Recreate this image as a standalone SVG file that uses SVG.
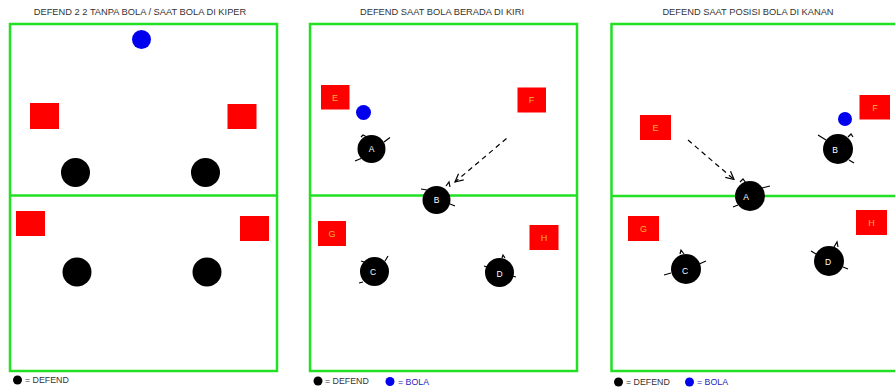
<svg xmlns="http://www.w3.org/2000/svg" width="895" height="389" viewBox="0 0 895 389">
<style>
.field{fill:none;stroke:#22e022;stroke-width:2.5}
.mid{stroke:#22e022;stroke-width:2.5}
.red{fill:#ff0000}
.def{fill:#000}
.ball{fill:#0000ee}
.title{font-family:"Liberation Sans",Arial,sans-serif;font-size:9.3px;fill:#333;text-anchor:middle}
.lbl{font-family:"Liberation Sans",Arial,sans-serif;font-size:9px;fill:#ffb030;text-anchor:middle}
.plbl{font-family:"Liberation Sans",Arial,sans-serif;font-size:8.5px;fill:#fff;text-anchor:middle}
.leg{font-family:"Liberation Sans",Arial,sans-serif;font-size:8.8px;fill:#333}
.legb{font-family:"Liberation Sans",Arial,sans-serif;font-size:8.8px;fill:#2222bb}
.tick{stroke:#000;stroke-width:1.2;fill:none}
.arrow{stroke:#000;stroke-width:1.2;stroke-dasharray:5,4;fill:none}
</style>
<defs>
<marker id="ah" markerWidth="10" markerHeight="10" refX="9" refY="5" orient="auto" markerUnits="userSpaceOnUse">
<path d="M1,1 L9,5 L1,9" fill="none" stroke="#000" stroke-width="1.2"/>
</marker>
</defs>
<rect width="895" height="389" fill="#fff"/>

<!-- Titles -->
<text class="title" x="140" y="15">DEFEND 2 2 TANPA BOLA / SAAT BOLA DI KIPER</text>
<text class="title" x="442" y="15">DEFEND SAAT BOLA BERADA DI KIRI</text>
<text class="title" x="748" y="15">DEFEND SAAT POSISI BOLA DI KANAN</text>

<!-- Panel 1 -->
<g id="field1">
<rect class="field" x="10" y="24" width="267" height="347"/>
<line class="mid" x1="10" y1="195.5" x2="277" y2="195.5"/>
</g>
<g id="p1-ball"><circle class="ball" cx="141.5" cy="39.5" r="9.5"/></g>
<g id="p1-r1"><rect class="red" x="30" y="103" width="29" height="26"/></g>
<g id="p1-r2"><rect class="red" x="227.5" y="104" width="29" height="25"/></g>
<g id="p1-d1"><circle class="def" cx="75.5" cy="172.5" r="14.5"/></g>
<g id="p1-d2"><circle class="def" cx="205.5" cy="172.5" r="14.5"/></g>
<g id="p1-r3"><rect class="red" x="16" y="211" width="29" height="25"/></g>
<g id="p1-r4"><rect class="red" x="240" y="216" width="29" height="25"/></g>
<g id="p1-d3"><circle class="def" cx="77" cy="272" r="14.5"/></g>
<g id="p1-d4"><circle class="def" cx="207" cy="272" r="14.5"/></g>

<!-- Panel 2 -->
<g id="field2">
<rect class="field" x="310" y="24" width="267" height="347"/>
<line class="mid" x1="310" y1="195.5" x2="577" y2="195.5"/>
</g>
<g id="p2-E"><rect class="red" x="321" y="85" width="28.5" height="24.5"/><text class="lbl" x="335" y="100.5">E</text></g>
<g id="p2-F"><rect class="red" x="517.5" y="87.5" width="28.5" height="25"/><text class="lbl" x="531.5" y="103">F</text></g>
<g id="p2-ball"><circle class="ball" cx="363.5" cy="112.5" r="7.5"/></g>
<g id="p2-A"><circle class="def" cx="371.5" cy="149" r="14"/>
<path class="tick" d="M384,142 L390,137.5 M355,161 L361,158.5 M361,137 L363,135 L366,136.5"/>
<text class="plbl" x="371.5" y="152">A</text></g>
<g id="p2-B"><circle class="def" cx="436.5" cy="200" r="14"/>
<path class="tick" d="M421,189 L427,190 M446,186 L449,182 L450,187 M450,204 L455,206"/>
<text class="plbl" x="436.5" y="203">B</text></g>
<g id="p2-G"><rect class="red" x="318" y="221" width="28" height="25"/><text class="lbl" x="332" y="236.5">G</text></g>
<g id="p2-H"><rect class="red" x="529.5" y="225" width="29" height="25"/><text class="lbl" x="544" y="240.5">H</text></g>
<g id="p2-C"><circle class="def" cx="374.5" cy="271.5" r="14.5"/>
<path class="tick" d="M385,261 L388,256 M361,261 L364,262 M359,283 L363,282"/>
<text class="plbl" x="373" y="275">C</text></g>
<g id="p2-D"><circle class="def" cx="499.5" cy="272.5" r="14.5"/>
<path class="tick" d="M502,258 L503,255 L505,258 M484,266 L487,267 M512,276 L516,277"/>
<text class="plbl" x="499.5" y="276.5">D</text></g>

<!-- Panel 3 -->
<g id="field3">
<rect class="field" x="611.5" y="24" width="287" height="347"/>
<line class="mid" x1="611.5" y1="196" x2="895" y2="196"/>
</g>
<g id="p3-E"><rect class="red" x="640" y="115" width="31" height="25"/><text class="lbl" x="655.5" y="130.5">E</text></g>
<g id="p3-F"><rect class="red" x="859.5" y="95" width="30.5" height="24.5"/><text class="lbl" x="875" y="110.5">F</text></g>
<g id="p3-ball"><circle class="ball" cx="845" cy="119" r="7"/></g>
<g id="p3-B"><circle class="def" cx="838" cy="149" r="15"/>
<path class="tick" d="M818,135 L826,140 M848,137 L851,134 L853,137 M849,160 L854,163"/>
<text class="plbl" x="835" y="152.5">B</text></g>
<g id="p3-A"><circle class="def" cx="750" cy="196" r="15"/>
<path class="tick" d="M740,182 L743,179 L746,183 M762,188 L770,186 M733,207 L738,205"/>
<text class="plbl" x="746" y="200">A</text></g>
<g id="p3-G"><rect class="red" x="628" y="216" width="31" height="25"/><text class="lbl" x="643.5" y="231.5">G</text></g>
<g id="p3-H"><rect class="red" x="856" y="210" width="31" height="25"/><text class="lbl" x="871.5" y="225.5">H</text></g>
<g id="p3-C"><circle class="def" cx="686" cy="269" r="15"/>
<path class="tick" d="M680,254 L681,250 L684,254 M697,265 L706,261 M664,275 L671,273"/>
<text class="plbl" x="685" y="274">C</text></g>
<g id="p3-D"><circle class="def" cx="829" cy="261" r="15"/>
<path class="tick" d="M834,247 L837,242 L838,247 M811,251 L816,254 M843,267 L848,269"/>
<text class="plbl" x="828" y="265">D</text></g>

<!-- Connectors -->
<g id="connectors">
<line class="arrow" x1="506.5" y1="138.5" x2="455" y2="182" marker-end="url(#ah)"/>
<line class="arrow" x1="688" y1="140" x2="734" y2="179.5" marker-end="url(#ah)"/>
</g>

<!-- Legends -->
<g id="legend1">
<circle class="def" cx="17.5" cy="380" r="4.5"/>
<text class="leg" x="25" y="383">= DEFEND</text>
</g>
<g id="legend2">
<circle class="def" cx="318" cy="381" r="4.5"/>
<text class="leg" x="325" y="384">= DEFEND</text>
<circle class="ball" cx="390" cy="381.5" r="4.5"/>
<text class="legb" x="398" y="384.5">= BOLA</text>
</g>
<g id="legend3">
<circle class="def" cx="618.5" cy="382" r="4.5"/>
<text class="leg" x="626" y="385">= DEFEND</text>
<circle class="ball" cx="689.5" cy="382" r="4.5"/>
<text class="legb" x="697" y="385">= BOLA</text>
</g>
</svg>
